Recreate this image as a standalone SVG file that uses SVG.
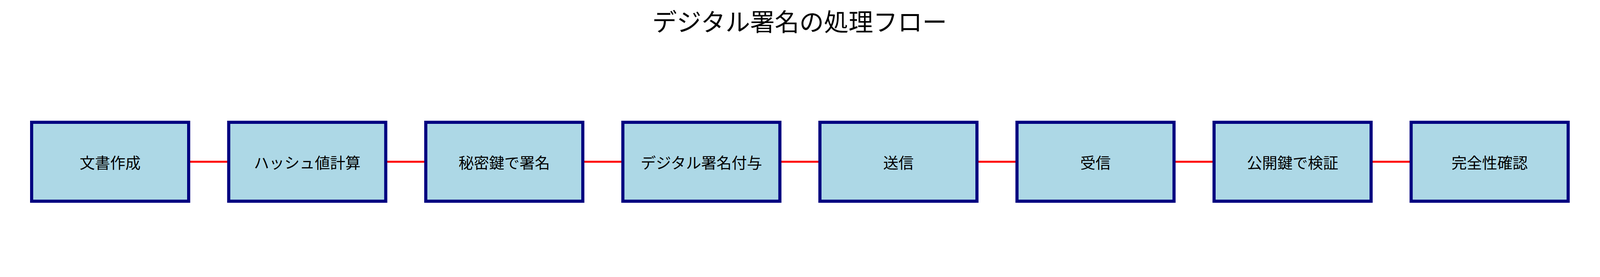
<svg xmlns="http://www.w3.org/2000/svg" width="4170" height="709" viewBox="0 0 4170 709">
<style>
.n rect{fill:#add8e6;stroke:#000080;stroke-width:8}
.n text{font-family:"Noto Sans CJK JP",sans-serif;font-size:39px;fill:#000;text-anchor:middle;dominant-baseline:central}
.c line{stroke:#ff0000;stroke-width:5}
.t{font-family:"Noto Sans CJK JP",sans-serif;font-size:63px;fill:#000;text-anchor:middle}
</style>
<rect width="4170" height="709" fill="#fff"/>
<text class="t" x="2047" y="79">デジタル署名の処理フロー</text>
<g class="c">
<line x1="483" y1="414" x2="586" y2="414"/>
<line x1="987" y1="414" x2="1090" y2="414"/>
<line x1="1492" y1="414" x2="1595" y2="414"/>
<line x1="1996" y1="414" x2="2099" y2="414"/>
<line x1="2501" y1="414" x2="2604" y2="414"/>
<line x1="3005" y1="414" x2="3108" y2="414"/>
<line x1="3510" y1="414" x2="3613" y2="414"/>
</g>
<g id="n1" class="n"><rect x="81" y="313" width="402" height="202"/><text x="282" y="414">文書作成</text></g>
<g id="n2" class="n"><rect x="585.5" y="313" width="402" height="202"/><text x="786.5" y="414">ハッシュ値計算</text></g>
<g id="n3" class="n"><rect x="1090" y="313" width="402" height="202"/><text x="1291" y="414">秘密鍵で署名</text></g>
<g id="n4" class="n"><rect x="1594.5" y="313" width="402" height="202"/><text x="1795.5" y="414">デジタル署名付与</text></g>
<g id="n5" class="n"><rect x="2099" y="313" width="402" height="202"/><text x="2300" y="414">送信</text></g>
<g id="n6" class="n"><rect x="2603.5" y="313" width="402" height="202"/><text x="2804.5" y="414">受信</text></g>
<g id="n7" class="n"><rect x="3108" y="313" width="402" height="202"/><text x="3309" y="414">公開鍵で検証</text></g>
<g id="n8" class="n"><rect x="3612.5" y="313" width="402" height="202"/><text x="3813.5" y="414">完全性確認</text></g>
</svg>
